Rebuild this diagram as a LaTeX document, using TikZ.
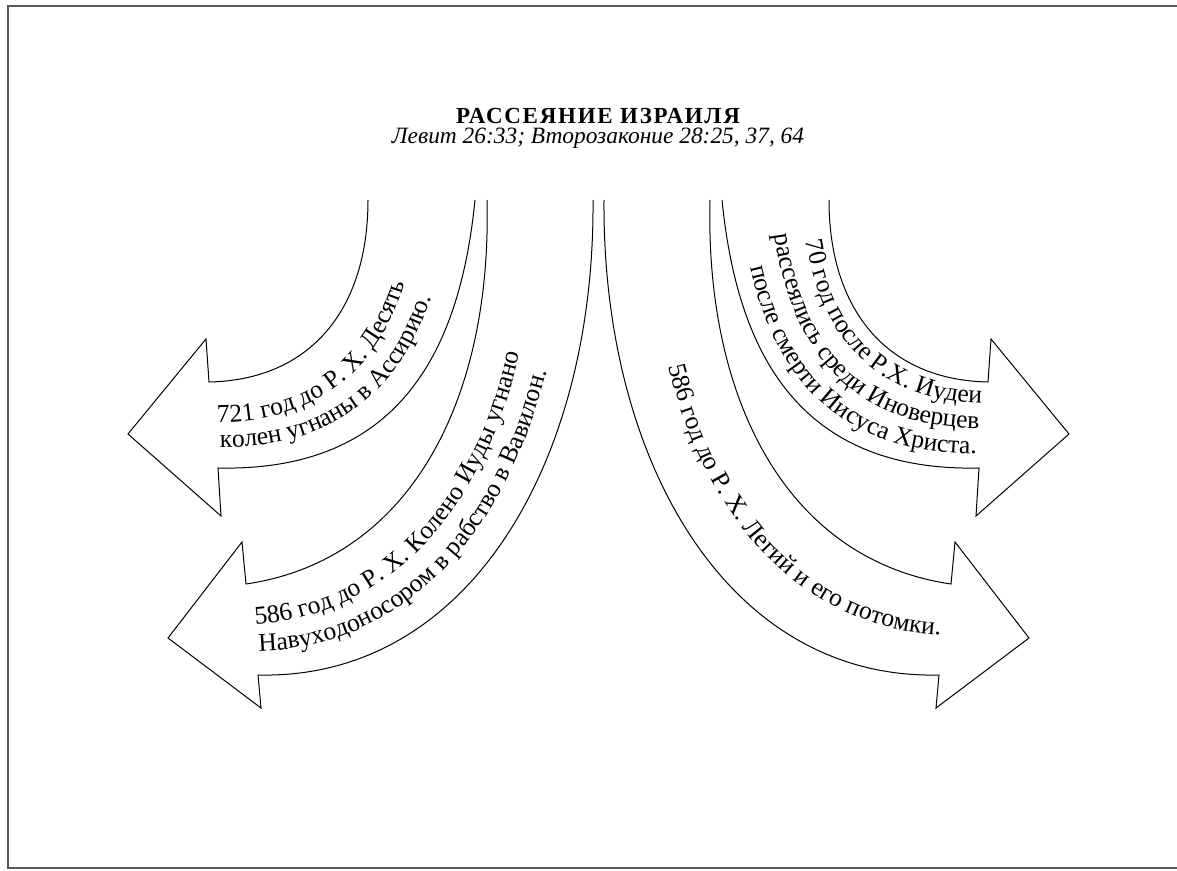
\documentclass[tikz,border=0pt]{standalone}
\usepackage{fontspec}
\setmainfont{Liberation Serif}
\newfontfamily\headfont[LetterSpace=7.5]{Liberation Serif}
\usetikzlibrary{decorations.text}
\newcommand\arrowtext{\fontsize{12.8}{14}\selectfont}

\begin{document}
\begin{tikzpicture}[x=0.5pt,y=-0.5pt,
	band/.style={draw=black, line width=0.5pt},
	frame/.style={draw=black!65, line width=0.9pt},
	headline/.style={font=\headfont\fontsize{11.5}{14}\selectfont\bfseries, anchor=base},
	subline/.style={font=\fontsize{11.7}{14}\selectfont\itshape, anchor=base},
	lefttext/.style={decorate, decoration={text along path, text align={left, left indent=2pt}, text={|\arrowtext|#1}}},
	righttext/.style={decorate, decoration={text along path, text align={right, right indent=2pt}, text={|\arrowtext|#1}}}]
	\useasboundingbox (0,0) rectangle (1177,871);
	\draw[frame] (8,6) rectangle (1195,868);
	\node[headline] (title) at (598,124) {РАССЕЯНИЕ ИЗРАИЛЯ};
	\node[subline] (refs) at (598,144) {Левит 26:33; Второзаконие 28:25, 37, 64};
	% left arrows
	\draw[band] (368,200) .. controls (368,310) and (310,380) .. (209,382) -- (206,339) -- (128,434) -- (221,516) -- (218,468) .. controls (400,472) and (460,350) .. (475,200);
	\draw[band] (487,200) .. controls (492,400) and (410,560) .. (246,584) -- (242,542) -- (168,638) -- (261,708) -- (258,675) .. controls (470,680) and (595,460) .. (593,200);
	% right arrows
	\draw[band] (829,200) .. controls (829,310) and (887,380) .. (988,382) -- (991,339) -- (1069,434) -- (976,516) -- (979,468) .. controls (797,472) and (737,350) .. (722,200);
	\draw[band] (710,200) .. controls (705,400) and (787,560) .. (951,584) -- (955,542) -- (1029,638) -- (936,708) -- (939,675) .. controls (727,680) and (602,460) .. (604,200);
	% texts along the arrows
	\path[lefttext={721 год до Р. Х. Десять}] (213.2,422.4) .. controls (352.3,423.2) and (411.2,328.8) .. (418.3,200);
	\path[lefttext={колен угнаны в Ассирию.}] (215.8,447.4) .. controls (378.4,449.9) and (437.9,340.4) .. (449.3,200);
	\path[lefttext={586 год до Р. Х. Колено Иуды угнано}] (251.4,625) .. controls (437,614) and (538.4,427) .. (534.7,200);
	\path[lefttext={Навуходоносором в рабство в Вавилон.}] (254.9,651.3) .. controls (454.4,648.8) and (568.2,444.4) .. (565.4,200);
	\path[righttext={70 год после Р.Х. Иудеи}] (802.3,200) .. controls (806,320) and (864.5,403) .. (985.8,403.5);
	\path[righttext={рассеялись среди Иноверцев}] (771.3,200) .. controls (779.3,331.6) and (838.4,429.7) .. (983.1,428.4);
	\path[righttext={после смерти Иисуса Христа.}] (740.2,200) .. controls (752.6,343.2) and (812.3,456.4) .. (980.5,453.4);
	\path[righttext={586 год до Р. Х. Легий и его потомки.}] (650.6,200) .. controls (647.3,433.6) and (753.4,627.2) .. (944.3,635);
\end{tikzpicture}
\end{document}
